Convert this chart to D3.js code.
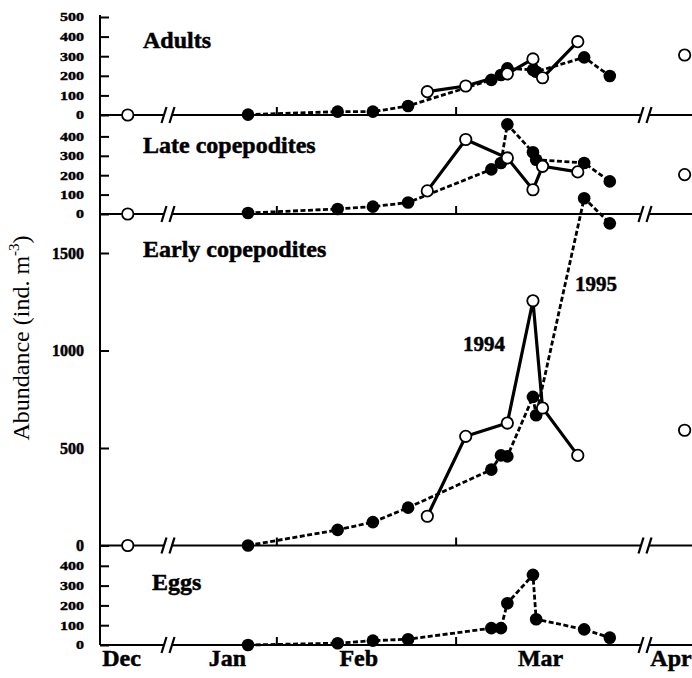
<!DOCTYPE html>
<html>
<head>
<meta charset="utf-8">
<script src="https://cdn.jsdelivr.net/npm/d3@7"></script>
<style>
body { margin: 0; background: #fff; }
text { font-family: "Liberation Serif", "Times New Roman", serif; fill: #000; }
text.heavy { stroke: #000; stroke-width: 0.5; }
</style>
</head>
<body>
<svg id="chart" width="692" height="678"></svg>
<script>
// x values are days counted from 1 Jan (Dec / Apr sit beyond the axis breaks)
var months = ["Dec", "Jan", "Feb", "Mar", "Apr"];
var monthDays = [-19.5, 23.3, 43.8, 72.2, 102.6];
var tickDays = [31, 59];
var breakDays = [14, 88.5];

// 1995 (filled, dashed)
var days95 = [26.5, 40.5, 46, 51.5, 64.5, 66, 67, 71, 71.5, 79, 83];
var adults95 = [2, 17, 17, 46, 179, 204, 238, 230, 221, 294, 199];
var late95 = [5, 26, 38, 59, 230, 263, 462, 318, 280, 263, 168];
var early95 = [0, 80, 120, 194, 389, 462, 457, 762, 668, 1781, 1652];
var eggs95 = [0, 9, 22, 29, 85, 85, 211, 354, 130, 79, 37];

// 1994 (open, solid)
var days94 = [54.5, 60.5, 67, 71, 72.5, 78];
var adults94 = [119, 148, 210, 286, 190, 374];
var late94 = [119, 384, 289, 125, 246, 217];
var early94 = [150, 560, 628, 1255, 705, 462];

// 1994 samples outside the season: December and April
var outDays = [-15, 110];
var adultsOut = [0, 306];
var lateOut = [0, 203];
var earlyOut = [0, 591];

var svg = d3.select("#chart");
var x = d3.scaleLinear().domain([-35, breakDays[0], breakDays[1], 114]).range([100, 168, 645, 692]);

var panels = [
	{label: "Adults", lx: 143, ly: 48, y: d3.scaleLinear().domain([0, 500]).range([115, 17]),
	 ticks: [0, 100, 200, 300, 400, 500], squash: true, s95: adults95, s94: adults94, out: adultsOut},
	{label: "Late copepodites", lx: 143, ly: 153, y: d3.scaleLinear().domain([0, 500]).range([214, 117]),
	 ticks: [0, 100, 200, 300, 400], squash: true, s95: late95, s94: late94, out: lateOut},
	{label: "Early copepodites", lx: 143, ly: 257, y: d3.scaleLinear().domain([0, 1700]).range([545.5, 214]),
	 ticks: [0, 500, 1000, 1500], squash: false, s95: early95, s94: early94, out: earlyOut},
	{label: "Eggs", lx: 152, ly: 590, y: d3.scaleLinear().domain([0, 500]).range([645, 546]),
	 ticks: [0, 100, 200, 300, 400], squash: true, s95: eggs95, s94: null, out: null}
];

// vertical axis line
svg.append("line")
	.attr("x1", 100).attr("x2", 100)
	.attr("y1", 15).attr("y2", panels[3].y(0))
	.attr("stroke", "#000").attr("stroke-width", 2);

panels.forEach(function(p){
	var g = svg.append("g");
	var y0 = p.y(0);

	// y ticks + labels
	var ax = g.append("g")
		.attr("transform", "translate(100,0)")
		.call(d3.axisLeft(p.y).tickValues(p.ticks).tickSize(-9).tickPadding(16).tickFormat(d3.format("d")));
	ax.select(".domain").remove();
	ax.selectAll(".tick line").attr("stroke", "#000").attr("stroke-width", 2);
	ax.selectAll(".tick text")
		.classed("heavy", true)
		.attr("font-size", 16).attr("font-weight", "bold")
		.attr("font-family", "Liberation Serif, Times New Roman, serif")
		.attr("transform", p.squash ? "scale(1,0.75)" : null);

	// baseline with two breaks
	var b1 = x(breakDays[0]), b2 = x(breakDays[1]);
	var segs = [[100, b1 - 4], [b1 + 4, b2 - 4], [b2 + 4, 692]];
	g.selectAll(".seg").data(segs).enter().append("line")
		.attr("x1", function(d){ return d[0]; }).attr("x2", function(d){ return d[1]; })
		.attr("y1", y0).attr("y2", y0)
		.attr("stroke", "#000").attr("stroke-width", 2);
	var slashes = [b1 - 4, b1 + 4, b2 - 4, b2 + 4];
	g.selectAll(".slash").data(slashes).enter().append("line")
		.attr("x1", function(d){ return d - 2.5; }).attr("x2", function(d){ return d + 2.5; })
		.attr("y1", y0 + 8).attr("y2", y0 - 8)
		.attr("stroke", "#000").attr("stroke-width", 2.2);

	// month ticks on the baseline
	g.selectAll(".mt").data(tickDays).enter().append("line")
		.attr("x1", function(d){ return x(d); }).attr("x2", function(d){ return x(d); })
		.attr("y1", y0).attr("y2", y0 - 8)
		.attr("stroke", "#000").attr("stroke-width", 2);

	g.append("text")
		.attr("class", "heavy")
		.attr("x", p.lx).attr("y", p.ly)
		.attr("font-size", 24).attr("font-weight", "bold")
		.text(p.label);

	var line = d3.line()
		.x(function(d){ return x(d[0]); })
		.y(function(d){ return p.y(d[1]); });

	var d95 = d3.zip(days95, p.s95);
	g.append("path").datum(d95)
		.attr("d", line)
		.attr("fill", "none").attr("stroke", "#000")
		.attr("stroke-width", 2.8).attr("stroke-dasharray", "5,2.5");
	g.selectAll(".p95").data(d95).enter().append("circle")
		.attr("cx", function(d){ return x(d[0]); })
		.attr("cy", function(d){ return p.y(d[1]); })
		.attr("r", 6.3).attr("fill", "#000");

	if(p.s94){
		var d94 = d3.zip(days94, p.s94);
		g.append("path").datum(d94)
			.attr("d", line)
			.attr("fill", "none").attr("stroke", "#000").attr("stroke-width", 3.2);
		g.selectAll(".p94").data(d94.concat(d3.zip(outDays, p.out))).enter().append("circle")
			.attr("cx", function(d){ return x(d[0]); })
			.attr("cy", function(d){ return p.y(d[1]); })
			.attr("r", 5.7).attr("fill", "#fff")
			.attr("stroke", "#000").attr("stroke-width", 1.8);
	}
});

// year labels in the early copepodite panel
svg.append("text").attr("class", "heavy").attr("x", 484).attr("y", 351)
	.attr("text-anchor", "middle").attr("font-size", 21).attr("font-weight", "bold").text("1994");
svg.append("text").attr("class", "heavy").attr("x", 596).attr("y", 291)
	.attr("text-anchor", "middle").attr("font-size", 21).attr("font-weight", "bold").text("1995");

// month labels
svg.selectAll(".month").data(months).enter().append("text")
	.attr("class", "heavy")
	.attr("x", function(d, i){ return x(monthDays[i]); })
	.attr("y", 666)
	.attr("text-anchor", "middle")
	.attr("font-size", 24).attr("font-weight", "bold")
	.text(function(d){ return d; });

// y title
var yt = svg.append("text")
	.attr("transform", "translate(29,338) rotate(-90)")
	.attr("text-anchor", "middle")
	.attr("font-size", 24);
yt.append("tspan").text("Abundance (ind. m");
yt.append("tspan").attr("font-size", 15).attr("dy", -10).text("-3");
yt.append("tspan").attr("dy", 10).text(")");
</script>
</body>
</html>
